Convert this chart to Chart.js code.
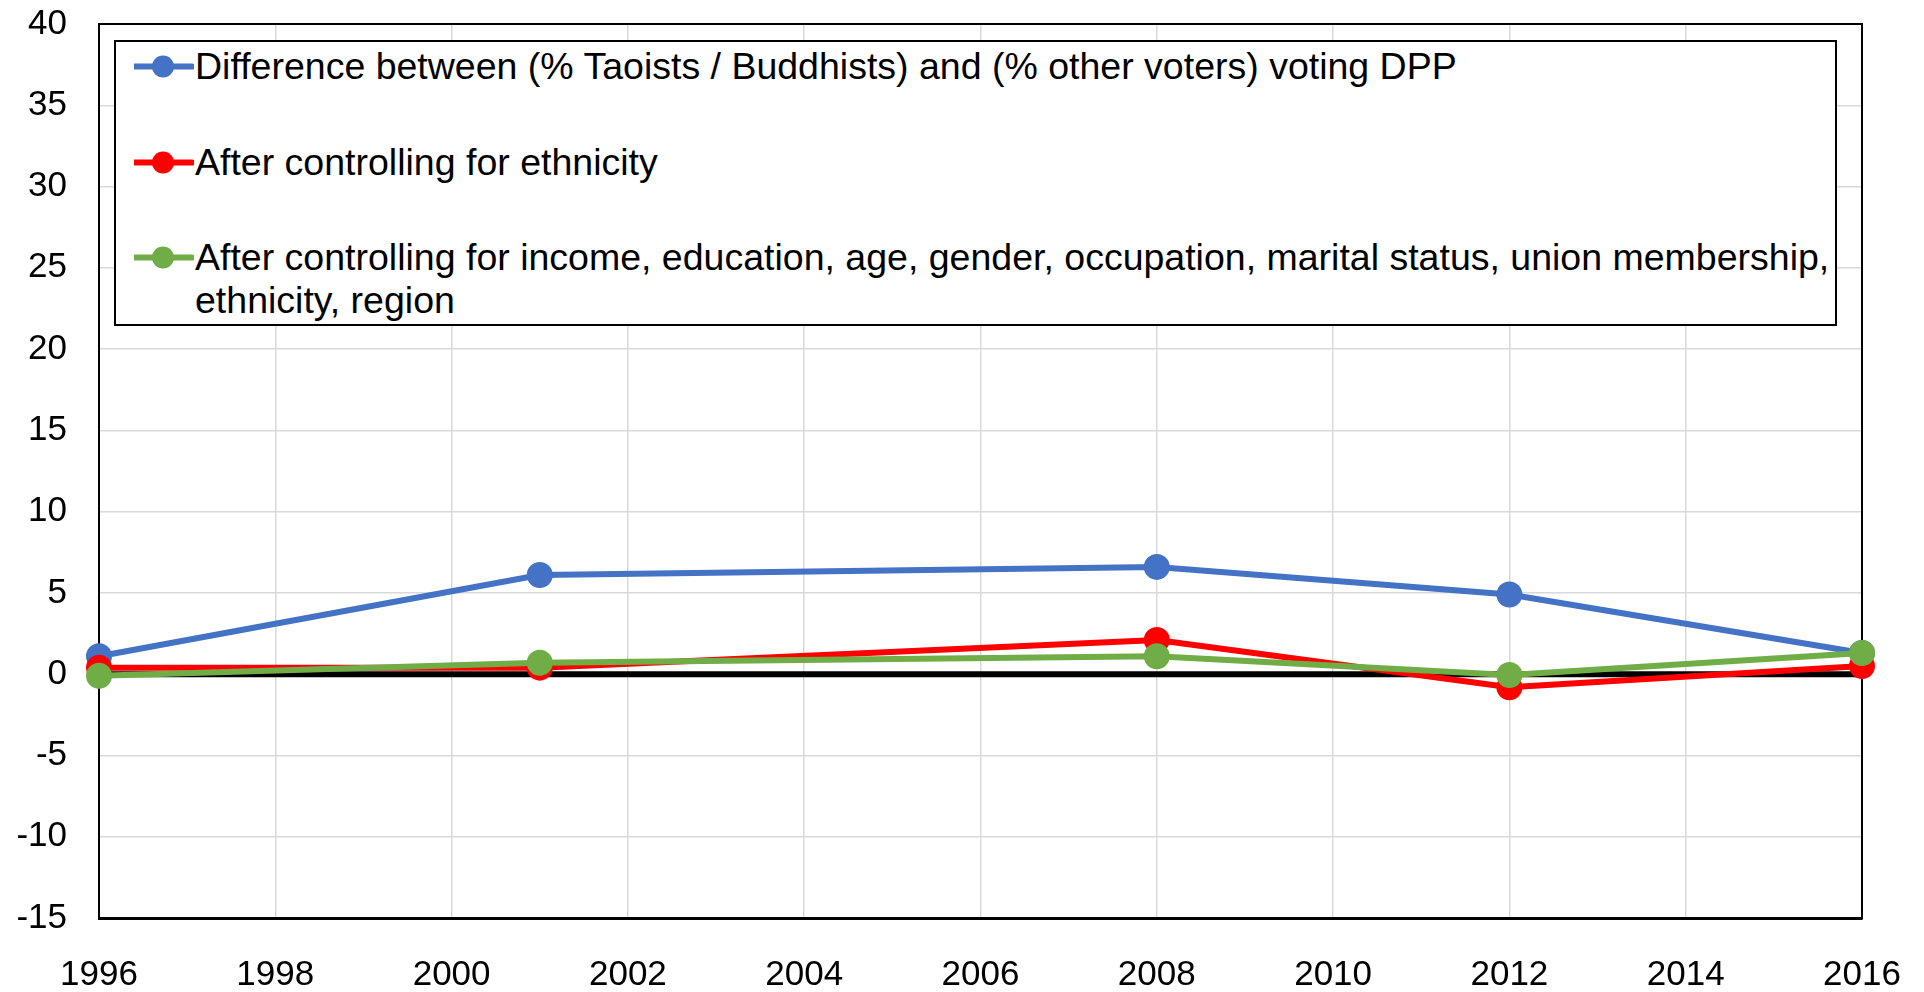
<!DOCTYPE html>
<html>
<head>
<meta charset="utf-8">
<script src="https://cdn.jsdelivr.net/npm/chart.js@4.4.1/dist/chart.umd.min.js"></script>
<style>
  body { margin: 0; background: #fff; }
  #wrap { position: relative; width: 1924px; height: 992px; }
  #legend {
    position: absolute; left: 114px; top: 40px; width: 1719px; height: 282px;
    border: 2px solid #000; background: #fff;
    font-family: "Liberation Sans", Arial, sans-serif; font-size: 37.5px; color: #000;
  }
  .item { position: absolute; left: 0; display: flex; align-items: flex-start; }
  .item svg { margin-left: 18px; flex: none; }
  .item span { line-height: 43px; white-space: nowrap; margin-left: 1px; }
</style>
</head>
<body>
<div id="wrap">
  <canvas id="chart" width="1924" height="992"></canvas>
  <div id="legend"></div>
</div>
<script>
// --- Data ---
const years = [1996, 2001, 2008, 2012, 2016];
const diffRaw = [1.1, 6.1, 6.6, 4.9, 1.3];
const ctrlEthnicity = [0.4, 0.4, 2.1, -0.8, 0.5];
const ctrlAll = [-0.1, 0.7, 1.1, -0.05, 1.3];
const zeroYears = [1996, 2016];
const zeroValues = [0, 0];
const seriesLabels = [
  'Difference between (% Taoists / Buddhists) and (% other voters) voting DPP',
  'After controlling for ethnicity',
  'After controlling for income, education, age, gender, occupation, marital status, union membership,<br>ethnicity, region'
];
const xTicks = { min: 1996, max: 2016, step: 2 };
const yTicks = { min: -15, max: 40, step: 5 };

const colors = ['#4472C4', '#FF0000', '#70AD47'];

function pts(xs, ys) { return xs.map((x, i) => ({ x: x, y: ys[i] })); }

// draws the box round the plot area (Excel style)
const plotBorder = {
  id: 'plotBorder',
  beforeDatasetsDraw(chart) {
    const a = chart.chartArea, ctx = chart.ctx;
    ctx.save();
    ctx.strokeStyle = '#000';
    ctx.lineWidth = 2;
    ctx.strokeRect(a.left, a.top, a.right - a.left, a.bottom - a.top);
    ctx.restore();
  }
};

function lineSet(label, data, color, order) {
  return {
    label: label,
    data: data,
    borderColor: color,
    backgroundColor: color,
    borderWidth: 6,
    pointRadius: 13,
    pointHoverRadius: 13,
    pointBorderWidth: 0,
    tension: 0,
    clip: false,
    order: order
  };
}

const tickFont = { family: '"Liberation Sans", Arial, sans-serif', size: 35 };

const ctx = document.getElementById('chart').getContext('2d');
new Chart(ctx, {
  type: 'line',
  data: {
    datasets: [
      lineSet(seriesLabels[0], pts(years, diffRaw), colors[0], 3),
      lineSet(seriesLabels[1], pts(years, ctrlEthnicity), colors[1], 2),
      lineSet(seriesLabels[2], pts(years, ctrlAll), colors[2], 1),
      {
        label: 'zero',
        data: pts(zeroYears, zeroValues),
        borderColor: '#000',
        borderWidth: 6,
        pointRadius: 0,
        clip: false,
        order: 4
      }
    ]
  },
  plugins: [plotBorder],
  options: {
    responsive: false,
    devicePixelRatio: 1,
    animation: false,
    layout: { padding: { top: 24, right: 62, left: 0, bottom: 0 } },
    plugins: { legend: { display: false }, tooltip: { enabled: false } },
    scales: {
      x: {
        type: 'linear',
        min: xTicks.min, max: xTicks.max,
        afterFit: s => { s.height = 74; s.paddingLeft = 0; s.paddingRight = 0; },
        grid: { color: '#d9d9d9', lineWidth: 1.5, drawTicks: false },
        border: { color: '#000', width: 3 },
        ticks: {
          stepSize: xTicks.step, padding: 36, color: '#000', maxRotation: 0,
          font: tickFont,
          callback: v => String(v)
        }
      },
      y: {
        min: yTicks.min, max: yTicks.max,
        afterFit: s => { s.width = 99; s.paddingTop = 0; s.paddingBottom = 0; },
        grid: { color: '#d9d9d9', lineWidth: 1.5, drawTicks: false },
        border: { color: '#000', width: 2 },
        ticks: {
          stepSize: yTicks.step, padding: 32, color: '#000',
          font: tickFont
        }
      }
    }
  }
});

// --- HTML legend inside the plot ---
const legend = document.getElementById('legend');
const tops = [3, 99, 194];
seriesLabels.forEach((lab, i) => {
  const d = document.createElement('div');
  d.className = 'item';
  d.style.top = tops[i] + 'px';
  d.innerHTML =
    '<svg width="60" height="43"><line x1="0" y1="21.5" x2="58" y2="21.5" stroke="' + colors[i] +
    '" stroke-width="6" stroke-linecap="round"/><circle cx="29" cy="21.5" r="11" fill="' + colors[i] + '"/></svg>' +
    '<span>' + lab + '</span>';
  legend.appendChild(d);
});
</script>
</body>
</html>
